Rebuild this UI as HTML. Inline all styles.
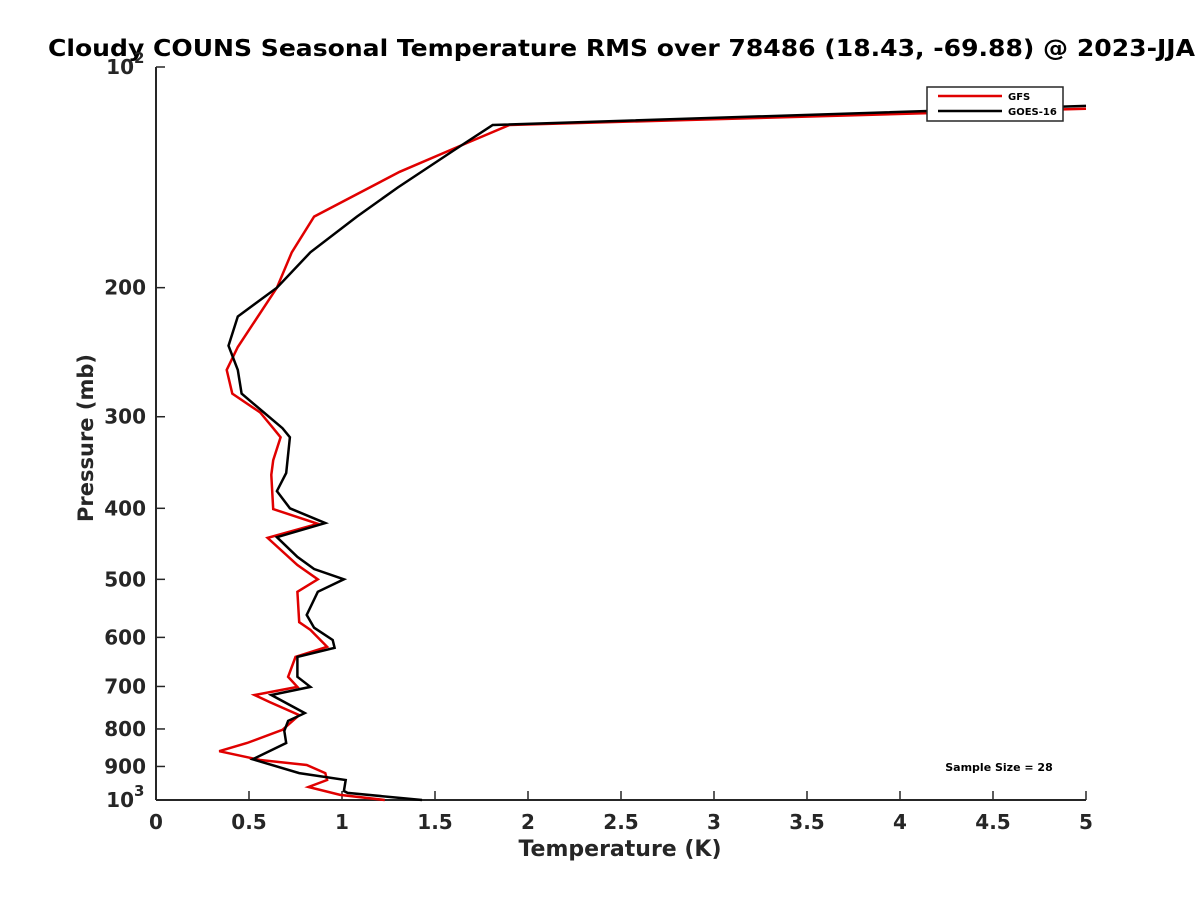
<!DOCTYPE html>
<html><head><meta charset="utf-8"><style>
html,body{margin:0;padding:0;background:#fff;}
svg{display:block;font-family:"DejaVu Sans","Liberation Sans",sans-serif;font-weight:bold;}
</style></head><body>
<svg id="chart" width="1200" height="900" viewBox="0 0 1200 900">
<rect width="1200" height="900" fill="#fff"/>
<text x="48" y="56" font-size="23" textLength="1147" lengthAdjust="spacingAndGlyphs" fill="#000">Cloudy COUNS Seasonal Temperature RMS over 78486 (18.43, -69.88) @ 2023-JJA</text>
<g id="axes"></g>
<g id="series"></g>
<text x="620" y="856" text-anchor="middle" font-size="22" fill="#262626">Temperature (K)</text>
<text transform="translate(93,438) rotate(-90)" text-anchor="middle" font-size="21" fill="#262626">Pressure (mb)</text>
<g>
<rect x="927" y="87" width="136" height="34" fill="#fff" stroke="#262626" stroke-width="1.5"/>
<line x1="938" y1="96" x2="1002" y2="96" stroke="#e00000" stroke-width="2.5"/>
<text x="1008" y="100" font-size="10" fill="#000">GFS</text>
<line x1="938" y1="111" x2="1002" y2="111" stroke="#000" stroke-width="2.5"/>
<text x="1008" y="115" font-size="10" fill="#000">GOES-16</text>
</g>
<text x="999" y="771" text-anchor="middle" font-size="11" fill="#000">Sample Size = 28</text>
</svg>
<script>
const xTicks=[0,0.5,1,1.5,2,2.5,3,3.5,4,4.5,5];
const xTickLabels=["0","0.5","1","1.5","2","2.5","3","3.5","4","4.5","5"];
const yTicks=[100,200,300,400,500,600,700,800,900,1000];
const yTickLabels=["10^2","200","300","400","500","600","700","800","900","10^3"];
const goesP=[113,120,130,146,160,179,200,219,240,259,279,296,311,320,358,379,400,419,438,466,484,500,520,559,582,605,620,638,679,701,719,761,780,805,836,880,919,939,972,978,1000];
const goesT=[5.0,1.81,1.60,1.30,1.08,0.83,0.65,0.44,0.39,0.44,0.46,0.58,0.68,0.72,0.70,0.65,0.72,0.91,0.65,0.76,0.85,1.01,0.87,0.81,0.85,0.95,0.96,0.76,0.76,0.83,0.62,0.80,0.71,0.69,0.70,0.52,0.77,1.02,1.01,1.03,1.43];
const gfsP=[114,120,127,139,160,179,200,241,259,279,296,311,320,344,360,401,420,439,478,500,520,572,586,618,638,679,701,719,735,766,802,836,858,882,896,919,939,960,984,1000];
const gfsT=[5.0,1.90,1.67,1.31,0.85,0.73,0.65,0.44,0.38,0.41,0.56,0.63,0.67,0.63,0.62,0.63,0.87,0.60,0.76,0.87,0.76,0.77,0.83,0.92,0.75,0.71,0.76,0.53,0.61,0.77,0.68,0.49,0.34,0.56,0.81,0.91,0.92,0.82,0.99,1.23];

const X0=156,X1=1086,Y0=67,Y1=800;
const xs=t=>X0+(t-0)/(5-0)*(X1-X0);
const ys=p=>Y0+(Math.log10(p)-2)*(Y1-Y0);
const NS="http://www.w3.org/2000/svg";
const axes=document.getElementById('axes');
const series=document.getElementById('series');
function mk(tag,attrs,parent){const e=document.createElementNS(NS,tag);for(const k in attrs)e.setAttribute(k,attrs[k]);parent.appendChild(e);return e;}
const C="#262626";
let e=mk('line',{x1:X0,y1:Y0,x2:X0,y2:Y1,stroke:C,'stroke-width':2},axes);


e=mk('line',{x1:X0,y1:Y1,x2:X1,y2:Y1,stroke:C,'stroke-width':2},axes);


xTicks.forEach((v,i)=>{
  const x=xs(v);
  let t=mk('line',{x1:x,y1:Y1,x2:x,y2:Y1-9,stroke:C,'stroke-width':1.5},axes);
  
  
  let l=mk('text',{x:x,y:Y1+29,'text-anchor':'middle','font-size':20,fill:C},axes);
  l.textContent=xTickLabels[i];
  
  
});
yTicks.forEach((v,i)=>{
  const y=ys(v);
  let t=mk('line',{x1:X0,y1:y,x2:X0+9,y2:y,stroke:C,'stroke-width':1.5},axes);
  
  
  let l=mk('text',{x:X0-10,y:y+7,'text-anchor':'end','font-size':20,fill:C},axes);
  const lab=yTickLabels[i];
  if(lab.indexOf('^')>=0){
    const [b,ex]=lab.split('^');
    l.setAttribute('x',X0-22);
    l.textContent=b;
    let s=mk('text',{x:X0-22,y:y-4,'font-size':15,fill:C},axes);
    s.textContent=ex;
    
    
  } else l.textContent=lab;
  
  
});
function line(P,T,color,name){
  const d=P.map((p,i)=>(i?'L':'M')+xs(T[i]).toFixed(1)+','+ys(p).toFixed(1)).join('');
  const el=mk('path',{d:d,fill:'none',stroke:color,'stroke-width':2.5,'stroke-linejoin':'miter'},series);
  
  
}
line(gfsP,gfsT,'#e00000','gfs-line');
line(goesP,goesT,'#000','goes16-line');
</script>
</body></html>
